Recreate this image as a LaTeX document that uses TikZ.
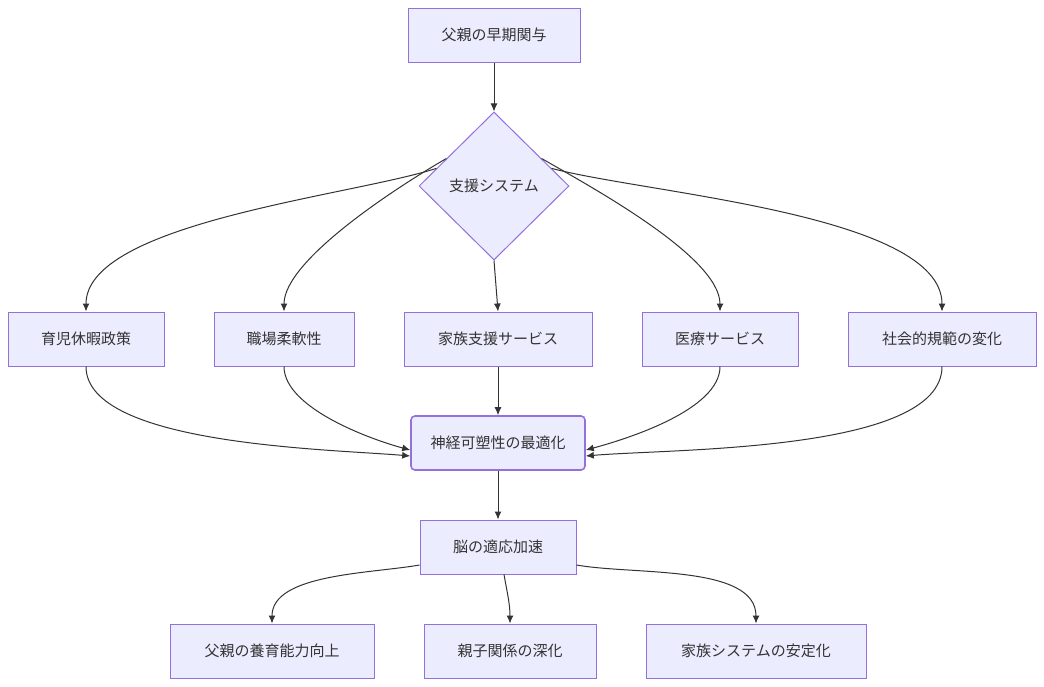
\documentclass[tikz,border=0pt]{standalone}
\usepackage{fontspec}
\newfontfamily\cjk{Noto Sans CJK JP}
\usetikzlibrary{shapes.geometric,arrows.meta}
\definecolor{nfill}{HTML}{ECECFF}
\definecolor{nline}{HTML}{9370DB}
\definecolor{eline}{HTML}{333333}
\begin{document}
\begin{tikzpicture}[x=1pt,y=-1pt,
  box/.style={draw=nline,fill=nfill,line width=1pt,minimum height=54pt,inner sep=0pt,font=\cjk\fontsize{15}{18}\selectfont,text=eline},
  dia/.style={draw=nline,fill=nfill,line width=1pt,diamond,minimum width=150pt,minimum height=148pt,inner sep=0pt,font=\cjk\fontsize{15}{18}\selectfont,text=eline},
  arr/.style={draw=eline,line width=1pt,-{Latex[length=8pt,width=7pt]}}]
\useasboundingbox (0,0) rectangle (1044,686);
\fill[white] (0,0) rectangle (1044,686);
\node[box,minimum width=172pt] (A) at (494,35) {父親の早期関与};
\node[dia] (B) at (494,186) {支援システム};
\node[box,minimum width=156pt] (C1) at (86,339) {育児休暇政策};
\node[box,minimum width=140pt] (C2) at (284,339) {職場柔軟性};
\node[box,minimum width=188pt] (C3) at (498,339) {家族支援サービス};
\node[box,minimum width=156pt] (C4) at (720,339) {医療サービス};
\node[box,minimum width=188pt] (C5) at (942,339) {社会的規範の変化};
\node[box,minimum width=174pt,rounded corners=4pt,line width=1.6pt] (N) at (498,443) {神経可塑性の最適化};
\node[box,minimum width=156pt] (M) at (498,547) {脳の適応加速};
\node[box,minimum width=204pt] (D1) at (272,651) {父親の養育能力向上};
\node[box,minimum width=172pt] (D2) at (510,651) {親子関係の深化};
\node[box,minimum width=220pt] (D3) at (756,651) {家族システムの安定化};
\draw[arr] (A) -- (B);
\draw[arr] (B.163) to[out=-162,in=90,looseness=0.6] (C1.north);
\draw[arr] (B.150) to[out=-150,in=90,looseness=0.6] (C2.north);
\draw[arr] (B.south) -- (C3.north);
\draw[arr] (B.30) to[out=-30,in=90,looseness=0.6] (C4.north);
\draw[arr] (B.17) to[out=-15,in=90,looseness=0.6] (C5.north);
\draw[arr] (C1.south) to[out=-90,in=175,looseness=0.6] ([yshift=-13pt]N.west);
\draw[arr] (C2.south) to[out=-90,in=165,looseness=0.7] ([yshift=-7pt]N.west);
\draw[arr] (C3.south) -- (N.north);
\draw[arr] (C4.south) to[out=-90,in=15,looseness=0.7] ([yshift=-7pt]N.east);
\draw[arr] (C5.south) to[out=-90,in=5,looseness=0.6] ([yshift=-13pt]N.east);
\draw[arr] (N) -- (M);
\draw[arr] ([yshift=-18pt]M.west) to[out=190,in=90,looseness=0.8] (D1.north);
\draw[arr] (M.south) ++(6,0) coordinate (m2) (m2) to[out=-80,in=90] (D2.north);
\draw[arr] ([yshift=-18pt]M.east) to[out=-10,in=90,looseness=0.8] (D3.north);
\end{tikzpicture}
\end{document}
